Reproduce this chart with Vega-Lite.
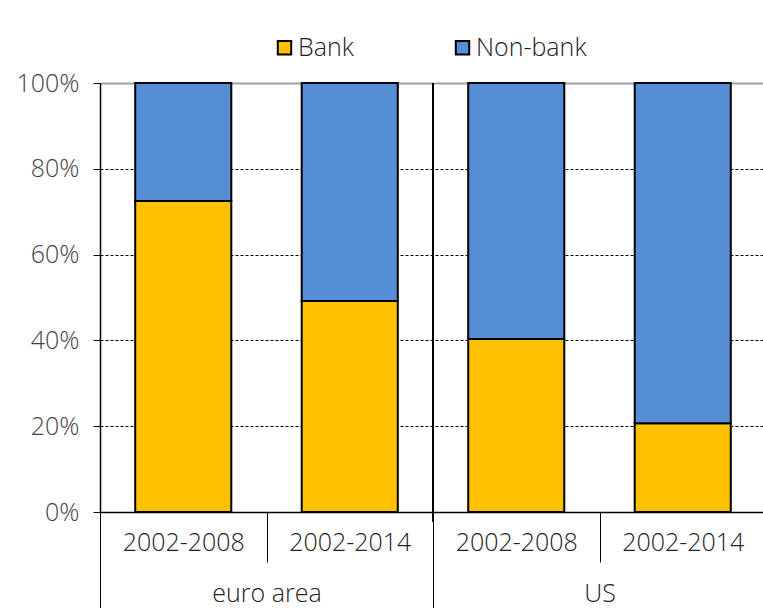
{
  "$schema": "https://vega.github.io/schema/vega-lite/v6.json",
  "width": 666,
  "height": 429,
  "padding": {"left": 5, "top": 35, "right": 0, "bottom": 0},
  "config": {
    "font": "Open Sans",
    "view": {"stroke": null},
    "axis": {"labelFont": "Open Sans", "labelFontWeight": 300, "labelColor": "#222", "title": null}
  },
  "datasets": {
    "bars": [
      {"key": "euro area 2002-2008", "type": "Bank", "share": 0.725},
      {"key": "euro area 2002-2008", "type": "Non-bank", "share": 0.275},
      {"key": "euro area 2002-2014", "type": "Bank", "share": 0.492},
      {"key": "euro area 2002-2014", "type": "Non-bank", "share": 0.508},
      {"key": "US 2002-2008", "type": "Bank", "share": 0.403},
      {"key": "US 2002-2008", "type": "Non-bank", "share": 0.597},
      {"key": "US 2002-2014", "type": "Bank", "share": 0.207},
      {"key": "US 2002-2014", "type": "Non-bank", "share": 0.793}
    ],
    "sep": [
      {"group": "euro area", "top": 1, "bottom": -0.023}
    ]
  },
  "layer": [
    {
      "data": {"name": "bars"},
      "mark": {"type": "bar", "width": {"band": 0.577}, "stroke": "#000", "strokeWidth": 2},
      "encoding": {
        "x": {
          "field": "key", "type": "nominal", "sort": null,
          "scale": {"paddingInner": 0, "paddingOuter": 0},
          "axis": {
            "orient": "bottom",
            "labelExpr": "slice(datum.label, -9)",
            "labelAngle": 0,
            "labelFontSize": 25,
            "labelPadding": -32,
            "labelOverlap": false,
            "tickBand": "extent",
            "tickSize": 50,
            "tickColor": "#000",
            "tickWidth": 1,
            "domainColor": "#000",
            "domainWidth": 1.5,
            "grid": false
          }
        },
        "y": {
          "field": "share", "type": "quantitative",
          "scale": {"domain": [0, 1]},
          "axis": {
            "format": "%",
            "values": [0, 0.2, 0.4, 0.6, 0.8, 1],
            "labelFontSize": 25,
            "labelColor": "#444",
            "labelPadding": 14,
            "tickSize": 7,
            "tickColor": "#000",
            "domainColor": "#000",
            "domainWidth": 1.5,
            "minExtent": 95,
            "maxExtent": 95,
            "grid": true,
            "gridWidth": {"condition": {"test": "datum.value === 1", "value": 2}, "value": 1},
            "gridColor": {"condition": {"test": "datum.value === 1", "value": "#A0A0A0"}, "value": "#000"},
            "gridDash": {"condition": {"test": "datum.value === 1", "value": []}, "value": [3, 2]}
          }
        },
        "order": {"field": "type", "sort": "ascending"},
        "color": {
          "field": "type", "type": "nominal",
          "scale": {"domain": ["Bank", "Non-bank"], "range": ["#FFC000", "#558ED5"]},
          "legend": {
            "title": null,
            "orient": "none",
            "legendX": 172,
            "legendY": -48,
            "direction": "horizontal",
            "symbolType": "square",
            "symbolSize": 180,
            "symbolStrokeColor": "#000",
            "symbolStrokeWidth": 2,
            "labelFontSize": 25,
            "labelFont": "Open Sans",
            "labelFontWeight": 300,
            "labelColor": "#222",
            "labelOffset": 1,
            "columnPadding": 96
          }
        }
      }
    },
    {
      "data": {"name": "sep"},
      "mark": {"type": "rule", "stroke": "#000", "strokeWidth": 2},
      "encoding": {
        "x": {
          "field": "group", "type": "nominal", "bandPosition": 1,
          "scale": {"domain": ["euro area", "US"], "paddingInner": 0, "paddingOuter": 0},
          "axis": {
            "orient": "bottom",
            "labelAngle": 0,
            "labelFontSize": 25,
            "labelPadding": -31,
            "labelOverlap": false,
            "tickBand": "extent",
            "tickSize": 100,
            "tickColor": "#000",
            "tickWidth": 1,
            "domain": false,
            "grid": false
          }
        },
        "y": {"field": "top", "type": "quantitative"},
        "y2": {"field": "bottom"}
      }
    }
  ],
  "resolve": {"scale": {"x": "independent"}}
}
